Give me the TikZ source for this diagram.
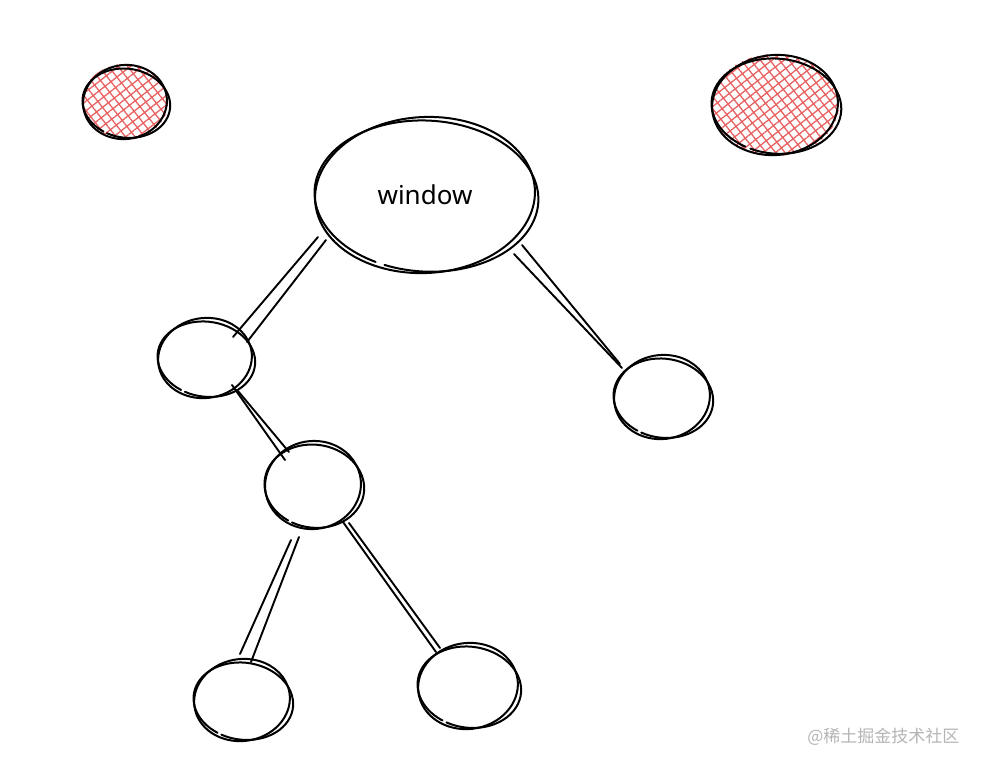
\documentclass[tikz,border=0pt]{standalone}
\usepackage{fontspec}
\setmainfont{Noto Sans}
\newfontfamily\cjk{Noto Sans CJK SC}
\usetikzlibrary{shapes.geometric,calc,patterns.meta}
\definecolor{hatch}{HTML}{E86060}
\definecolor{wm}{HTML}{B4B4B4}
\tikzset{
  sk/.style={line width=2pt, black, line cap=round},
  ln/.style={line width=1.9pt, black, line cap=round},
  hole/.style={ellipse, draw=none, inner sep=0pt}
}
\newcommand\sknode[7]{% name, x, y, rx, ry, rotation, text
  \node[hole, minimum width=2*#4pt, minimum height=2*#5pt] (#1) at (#2,#3) {#7};
  \draw[sk, rotate around={#6:(#2,#3)}] (#2,#3) ++(100:#4pt and #5pt) arc[start angle=100, end angle=475, x radius=#4pt, y radius=#5pt];
  \draw[sk, rotate around={-#6:(#2,#3)}] ($(#2,#3)+(1.5,1)$) ++(250:#4pt+2pt and #5pt-2.5pt) arc[start angle=250, end angle=605, x radius=#4pt+2pt, y radius=#5pt-2.5pt];
}
\newcommand\hatchfill[4]{% x, y, rx, ry
  \fill[pattern={Lines[angle=38,distance=7.5pt,line width=1.3pt]}, pattern color=hatch] (#1,#2) ellipse[x radius=#3pt, y radius=#4pt];
  \fill[pattern={Lines[angle=-52,distance=7.5pt,line width=1.3pt]}, pattern color=hatch] (#1,#2) ellipse[x radius=#3pt, y radius=#4pt];
}
\begin{document}
\begin{tikzpicture}[x=1pt,y=-1pt]
  \useasboundingbox (0,0) rectangle (984,768);
  % red hatched nodes
  \hatchfill{125}{102}{43}{38}
  \sknode{r1}{125}{102}{42}{37}{8}{}
  \hatchfill{775}{105}{64}{51}
  \sknode{r2}{775}{105}{63}{50}{5}{}
  % tree nodes
  \sknode{win}{425}{195}{110}{78}{3}{\fontsize{26}{30}\selectfont window}
  \sknode{a}{205}{358}{47}{40}{8}{}
  \sknode{b}{662}{397}{48}{42}{8}{}
  \sknode{c}{313}{485}{48}{44}{8}{}
  \sknode{d}{242}{700}{48}{41}{8}{}
  \sknode{e}{468}{686}{50}{43}{8}{}
  % connectors (two hand-drawn strokes each)
  \draw[ln] ($(win)+(-107,42)$) -- ($(a)+(28,-21)$);
  \draw[ln] ($(win)+(-99,45)$) -- ($(a)+(42,-16)$);
  \draw[ln] ($(win)+(89,59)$) -- ($(b)+(-40,-29)$);
  \draw[ln] ($(win)+(97,50)$) -- ($(b)+(-42,-33)$);
  \draw[ln] ($(a)+(27,27)$) -- ($(c)+(-28,-25)$);
  \draw[ln] ($(a)+(33,33)$) -- ($(c)+(-24,-33)$);
  \draw[ln] ($(c)+(-22,55)$) -- ($(d)+(-2,-46)$);
  \draw[ln] ($(c)+(-14,52)$) -- ($(d)+(9,-38)$);
  \draw[ln] ($(c)+(30,37)$) -- ($(e)+(-32,-34)$);
  \draw[ln] ($(c)+(36,38)$) -- ($(e)+(-28,-38)$);
  % watermark
  \node[text=wm, font=\cjk\fontsize{17}{20}\selectfont, anchor=east] (wmk) at (963,737) {@稀土掘金技术社区};
\end{tikzpicture}
\end{document}
